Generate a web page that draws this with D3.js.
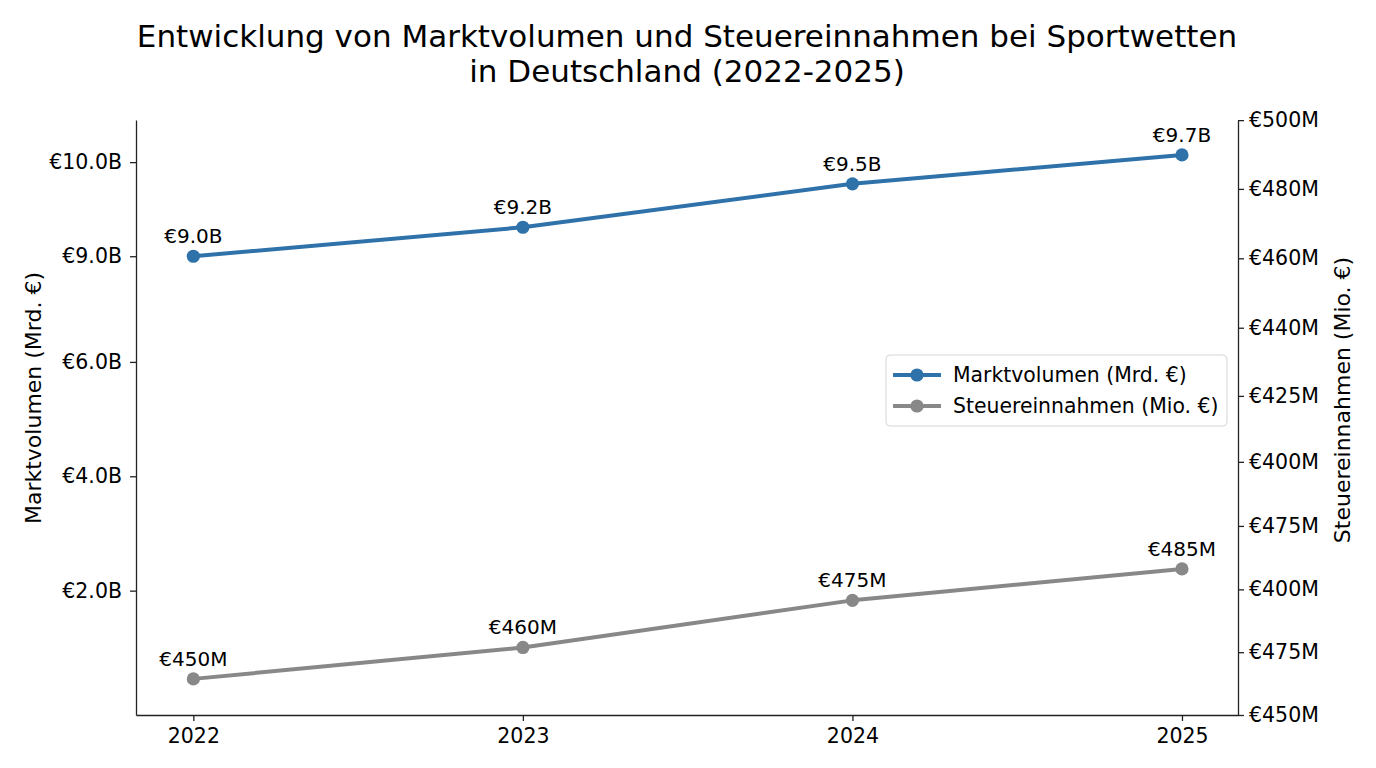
<!DOCTYPE html>
<html>
<head>
<meta charset="utf-8">
<script src="https://cdn.jsdelivr.net/npm/d3@7"></script>
<style>
  body { margin: 0; background: #fff; }
  svg text { font-family: "DejaVu Sans", sans-serif; fill: #000; }
  .axis path, .axis line { stroke: #222; stroke-width: 1.3; }
</style>
</head>
<body>
<svg id="chart" width="1376" height="768"></svg>
<script>
// daten
const years = [2022, 2023, 2024, 2025];
const marktvolumen = [9.0, 9.2, 9.5, 9.7];          // Mrd. €
const steuereinnahmen = [450, 460, 475, 485];       // Mio. €

// achsenbeschriftungen wie im original (nicht monoton, so übernommen)
const leftTickVals = [9.65, 9.0, 8.27, 7.48, 6.69];
const leftTickLabels = ["€10.0B", "€9.0B", "€6.0B", "€4.0B", "€2.0B"];
const rightTickVals = [627.9, 606.0, 583.9, 561.8, 540.1, 519.1, 498.7, 478.5, 458.5, 438.5];
const rightTickLabels = ["€500M", "€480M", "€460M", "€440M", "€425M", "€400M", "€475M", "€400M", "€475M", "€450M"];

const BLUE = "#2f72aa";
const GREY = "#888888";

const svg = d3.select("#chart");
const plotL = 136, plotR = 1238, plotT = 120, plotB = 715;

const x = d3.scaleLinear().domain([2022 - 0.174, 2025 + 0.17]).range([plotL, plotR]);
const yL = d3.scaleLinear().domain([5.831, 9.941]).range([plotB, plotT]);
const yR = d3.scaleLinear().domain([438.5, 627.94]).range([plotB, plotT]);

// titel
svg.append("text").attr("x", 687).attr("y", 47).attr("text-anchor", "middle")
  .attr("font-size", 31).text("Entwicklung von Marktvolumen und Steuereinnahmen bei Sportwetten");
svg.append("text").attr("x", 687).attr("y", 82).attr("text-anchor", "middle")
  .attr("font-size", 31).text("in Deutschland (2022-2025)");

// achsen
const gx = svg.append("g").attr("class", "axis").attr("transform", `translate(0,${plotB})`)
  .call(d3.axisBottom(x).tickValues(years).tickFormat(d3.format("d")).tickSize(6).tickSizeOuter(0).tickPadding(7));
const gl = svg.append("g").attr("class", "axis").attr("transform", `translate(${plotL},0)`)
  .call(d3.axisLeft(yL).tickValues(leftTickVals).tickFormat((d, i) => leftTickLabels[i]).tickSize(6).tickSizeOuter(0).tickPadding(8));
const gr = svg.append("g").attr("class", "axis").attr("transform", `translate(${plotR},0)`)
  .call(d3.axisRight(yR).tickValues(rightTickVals).tickFormat((d, i) => rightTickLabels[i]).tickSize(6).tickSizeOuter(0).tickPadding(5));
[gx, gl, gr].forEach(g => g.selectAll("text").attr("font-size", 20.5).attr("font-family", "DejaVu Sans").attr("fill", "#000"));

// achsentitel
svg.append("text").attr("transform", "translate(41,398) rotate(-90)").attr("text-anchor", "middle")
  .attr("font-size", 22).text("Marktvolumen (Mrd. €)");
svg.append("text").attr("transform", "translate(1350,400) rotate(-90)").attr("text-anchor", "middle")
  .attr("font-size", 22).text("Steuereinnahmen (Mio. €)");

// linien
function drawSeries(values, yScale, color, fmt) {
  const g = svg.append("g");
  g.append("path").datum(values)
    .attr("fill", "none").attr("stroke", color).attr("stroke-width", 4).attr("stroke-linejoin", "round")
    .attr("d", d3.line().x((d, i) => x(years[i])).y(d => yScale(d)));
  g.selectAll("circle").data(values).join("circle")
    .attr("cx", (d, i) => x(years[i])).attr("cy", d => yScale(d)).attr("r", 6.6).attr("fill", color);
  g.selectAll("text").data(values).join("text")
    .attr("x", (d, i) => x(years[i])).attr("y", d => yScale(d) - 13)
    .attr("text-anchor", "middle").attr("font-size", 20).text(fmt);
}
drawSeries(marktvolumen, yL, BLUE, d => `€${d.toFixed(1)}B`);
drawSeries(steuereinnahmen, yR, GREY, d => `€${d}M`);

// legende
const lg = svg.append("g").attr("transform", "translate(886,355)");
lg.append("rect").attr("width", 341).attr("height", 71).attr("rx", 4)
  .attr("fill", "#fff").attr("fill-opacity", 0.85).attr("stroke", "#d6d6d6");
[["Marktvolumen (Mrd. €)", BLUE], ["Steuereinnahmen (Mio. €)", GREY]].forEach(([label, color], i) => {
  const cy = 20 + i * 31;
  lg.append("line").attr("x1", 7).attr("x2", 55).attr("y1", cy).attr("y2", cy)
    .attr("stroke", color).attr("stroke-width", 4);
  lg.append("circle").attr("cx", 31).attr("cy", cy).attr("r", 6.6).attr("fill", color);
  lg.append("text").attr("x", 67).attr("y", cy + 7).attr("font-size", 20.4).text(label);
});
</script>
</body>
</html>
